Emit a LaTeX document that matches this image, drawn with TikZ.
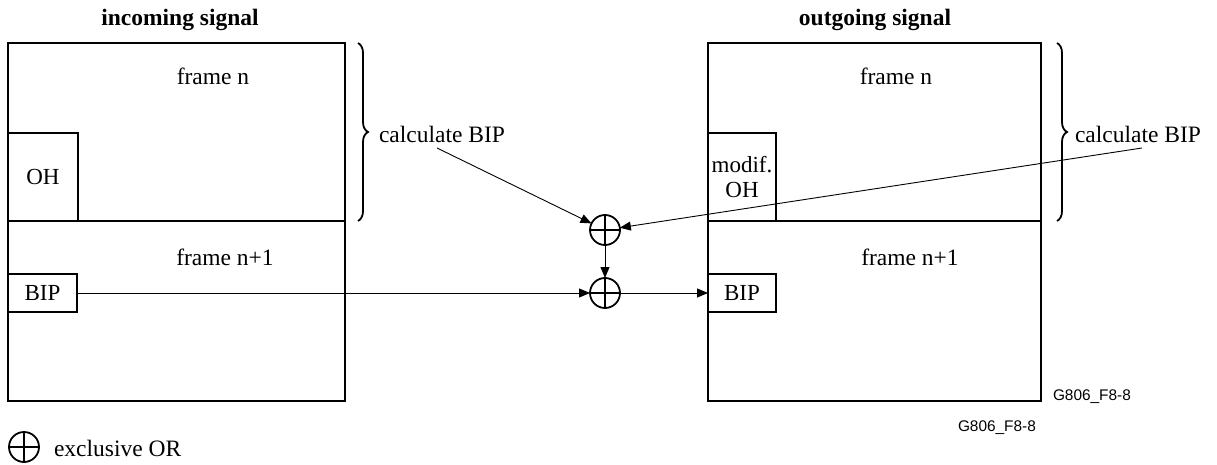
\documentclass[tikz,border=0pt]{standalone}
\usepackage{fontspec}
\setmainfont{Liberation Serif}
\newfontfamily\sansf{Liberation Sans}
\usetikzlibrary{arrows.meta,decorations.pathreplacing}
\begin{document}
\begin{tikzpicture}[x=1pt,y=-1pt,
  every node/.style={font=\fontsize{23.5}{27}\selectfont, inner sep=0pt, outer sep=0pt},
  frm/.style={draw, line width=2pt, anchor=north west},
  sub/.style={draw, line width=2pt, anchor=north west, align=center, font=\fontsize{23}{25}\selectfont},
  lbl/.style={font=\fontsize{23.5}{27}\selectfont},
  ttl/.style={font=\bfseries\fontsize{23.5}{27}\selectfont},
  xor/.style={circle, draw, line width=1.8pt, minimum size=30pt,
    path picture={\draw[line width=2.2pt] (path picture bounding box.north) -- (path picture bounding box.south)
      (path picture bounding box.west) -- (path picture bounding box.east);}},
  arr/.style={line width=0.9pt, -{Triangle[length=11pt,width=9pt]}},
  brc/.style={decorate, decoration={brace, amplitude=10pt}, line width=1.8pt},
  tag/.style={font=\sansf\fontsize{15.4}{18}\selectfont}
]
\useasboundingbox (0,0) rectangle (1217,465);

% left frames
\node[frm, minimum width=337pt, minimum height=178pt] (lfn) at (8,43) {};
\node[frm, minimum width=337pt, minimum height=180pt] (lfn1) at (8,221) {};
\node[sub, minimum width=70pt, minimum height=88pt] (loh) at (8,133) {OH};
\node[sub, minimum width=69pt, minimum height=38pt] (lbip) at (8,274) {BIP};
\node[ttl] (tin) at (180,20) {incoming signal};
\node[lbl] (lfnt) at (213,76) {frame n};
\node[lbl] (lfn1t) at (225,257) {frame n+1};

% right frames
\node[frm, minimum width=333pt, minimum height=178pt] (rfn) at (708,43) {};
\node[frm, minimum width=333pt, minimum height=180pt] (rfn1) at (708,221) {};
\node[sub, minimum width=68pt, minimum height=88pt] (roh) at (708,133) {modif.\\OH};
\node[sub, minimum width=68pt, minimum height=38pt] (rbip) at (708,274) {BIP};
\node[ttl] (tout) at (875,20) {outgoing signal};
\node[lbl] (rfnt) at (896,76) {frame n};
\node[lbl] (rfn1t) at (910,257) {frame n+1};

% braces
\coordinate (lbt) at (358,43);
\coordinate (lbb) at (358,221);
\draw[brc] (lbt) -- (lbb);
\coordinate (rbt) at (1057,43);
\coordinate (rbb) at (1057,221);
\draw[brc] (rbt) -- (rbb);

\node[lbl] (lcalc) at (442,134) {calculate BIP};
\node[lbl] (rcalc) at (1138,134) {calculate BIP};
\coordinate (lcs) at (437,148);
\coordinate (rcs) at (1142,148);

% XORs
\node[xor] (x1) at (605,230) {};
\node[xor] (x2) at (605,293) {};

\draw[arr] (lcs) -- (x1);
\draw[arr] (rcs) -- (x1);
\draw[arr] (x1) -- (x2);
\draw[arr] (lbip.east) -- (x2.west);
\draw[arr] (x2.east) -- (rbip.west);

% legend
\node[xor] (xl) at (24,447) {};
\node[lbl, anchor=west] (xlt) at (54,448) {exclusive OR};

% tags
\node[tag, anchor=west] (tag1) at (1053,397) {G806\_F8-8};
\node[tag, anchor=west] (tag2) at (958,428) {G806\_F8-8};
\end{tikzpicture}
\end{document}
